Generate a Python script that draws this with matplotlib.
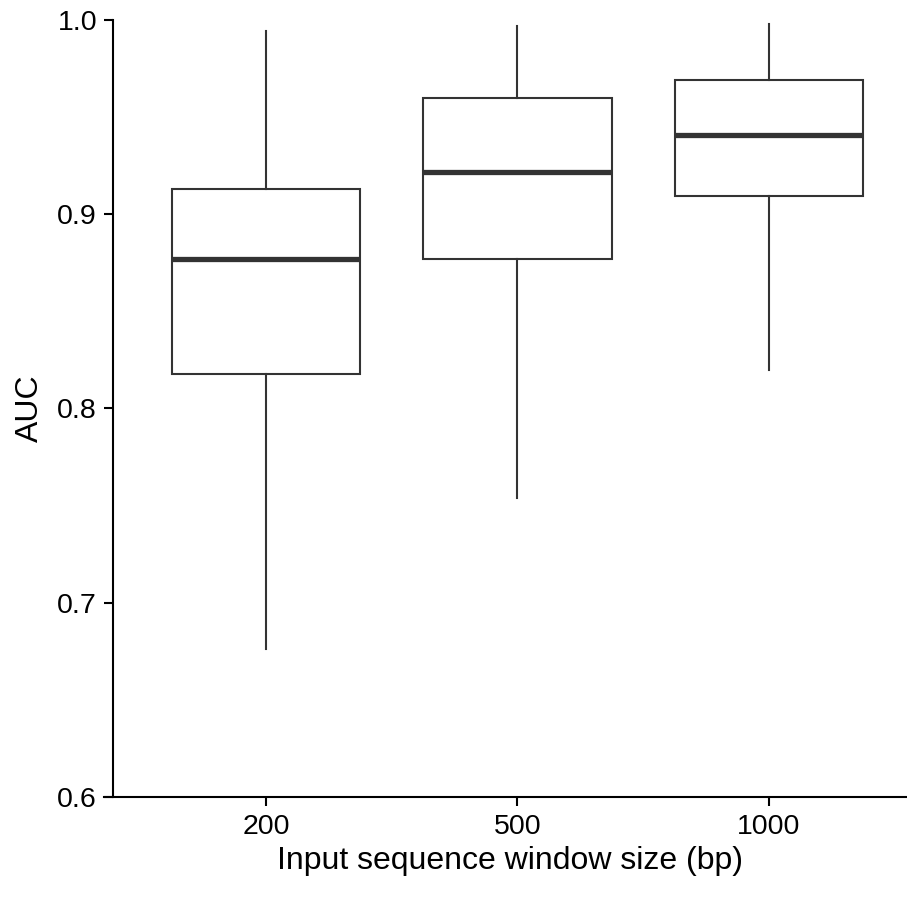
import matplotlib.pyplot as plt

plt.rcParams['font.family'] = ['Liberation Sans', 'DejaVu Sans']

# box statistics
window_sizes = ['200', '500', '1000']
whisker_low = [0.676, 0.754, 0.820]
q1 = [0.818, 0.877, 0.9095]
median = [0.877, 0.922, 0.941]
q3 = [0.913, 0.960, 0.969]
whisker_high = [0.9945, 0.997, 0.998]

stats = []
for i, name in enumerate(window_sizes):
    stats.append({'label': name, 'whislo': whisker_low[i], 'q1': q1[i],
                  'med': median[i], 'q3': q3[i], 'whishi': whisker_high[i],
                  'fliers': []})

fig = plt.figure(figsize=(9.07, 8.97), dpi=100)
ax = fig.add_axes([0.1246, 0.1115, 0.8754, 0.8662])

line_col = '#333333'
ax.bxp(stats, positions=range(len(stats)), widths=0.75, showcaps=False,
       patch_artist=True,
       boxprops=dict(facecolor='white', edgecolor=line_col, linewidth=1.5),
       medianprops=dict(color=line_col, linewidth=3.8, solid_capstyle='butt'),
       whiskerprops=dict(color=line_col, linewidth=1.5))

ax.set_xlim(-0.608, 2.549)
ax.set_ylim(0.6, 1.0)
ax.set_yticks([0.6, 0.7, 0.8, 0.9, 1.0])
ax.set_yticklabels(['0.6', '0.7', '0.8', '0.9', '1.0'])

for side in ['top', 'right']:
    ax.spines[side].set_visible(False)
for side in ['left', 'bottom']:
    ax.spines[side].set_linewidth(1.5)
    ax.spines[side].set_color('black')
ax.spines['bottom'].set_bounds(-0.644, 2.549)

ax.tick_params(axis='both', length=6.5, width=1.5, labelsize=20.5, color='black')
ax.tick_params(axis='y', pad=5)
ax.tick_params(axis='x', pad=6)

ax.set_xlabel('Input sequence window size (bp)', fontsize=23, labelpad=4)
ax.set_ylabel('AUC', fontsize=23, labelpad=9)

fig.savefig('out.png', dpi=100)
